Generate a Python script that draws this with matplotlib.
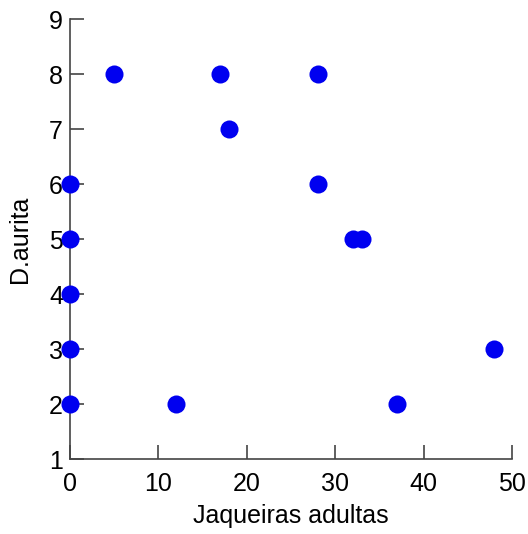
import matplotlib
matplotlib.use("Agg")
import matplotlib.pyplot as plt

# Adult jackfruit trees vs. D. aurita counts
jaqueiras = [5, 17, 28, 18, 0, 28, 0, 32, 33, 0, 0, 48, 0, 12, 37]
d_aurita = [8, 8, 8, 7, 6, 6, 5, 5, 5, 4, 3, 3, 2, 2, 2]

x_ticks = [0, 10, 20, 30, 40, 50]
y_ticks = [1, 2, 3, 4, 5, 6, 7, 8, 9]

plt.rcParams['font.family'] = ['Liberation Sans', 'DejaVu Sans']

fig = plt.figure(figsize=(5.28, 5.34), dpi=100)
ax = fig.add_axes([0.1326, 0.1404, 0.8371, 0.824])

ax.plot(jaqueiras, d_aurita, linestyle='none', marker='o', markersize=13,
        color='#0000f0', markeredgewidth=0, clip_on=False, zorder=3)

ax.set_xlim(0, 50)
ax.set_ylim(1, 9)
ax.set_xticks(x_ticks)
ax.set_yticks(y_ticks)

for side in ('top', 'right'):
    ax.spines[side].set_visible(False)
for side in ('left', 'bottom'):
    ax.spines[side].set_color('#444444')
    ax.spines[side].set_linewidth(1.2)

ax.tick_params(axis='both', direction='in', length=10, width=1.2,
               color='#444444', labelsize=18, labelcolor='black')
ax.tick_params(axis='x', pad=9)
ax.tick_params(axis='y', pad=5)

ax.set_xlabel('Jaqueiras adultas', fontsize=18, labelpad=6)
ax.set_ylabel('D.aurita', fontsize=18, labelpad=12)

fig.savefig('out.png', dpi=100)
